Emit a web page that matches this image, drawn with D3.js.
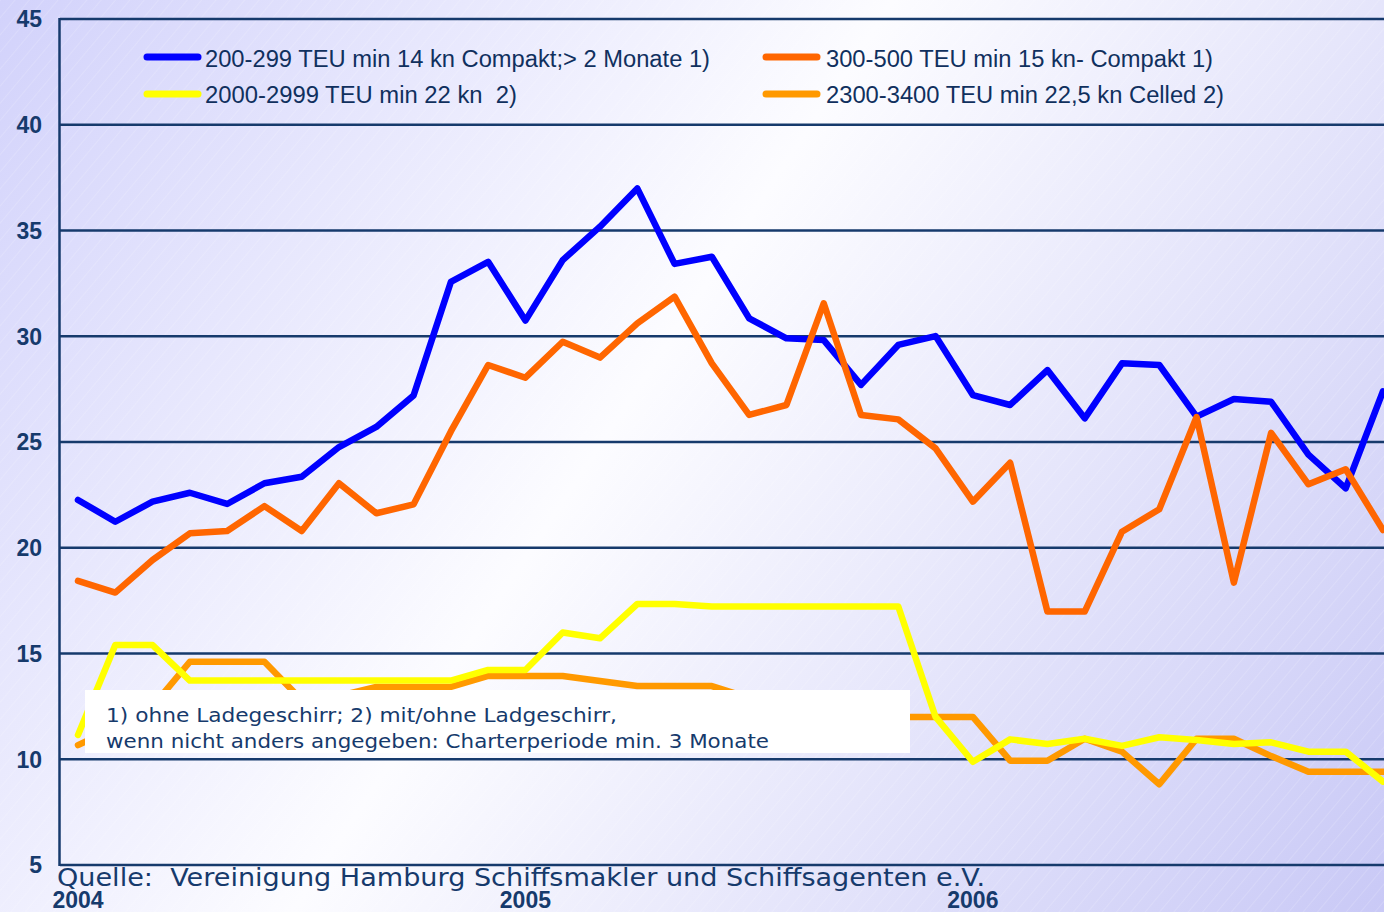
<!DOCTYPE html>
<html>
<head>
<meta charset="utf-8">
<script src="https://cdn.jsdelivr.net/npm/d3@7"></script>
<style>
  html, body { margin: 0; padding: 0; background: #fff; }
  svg { display: block; }
</style>
</head>
<body>
<svg id="canvas" width="1384" height="912"></svg>
<script>
// monthly charter rates, Jan 2004 .. Dec 2006 (index 0..35)
let yearLabels = ["2004", "2005", "2006"]
let yearMonthIndex = [0, 12, 24]
let yTicks = [5, 10, 15, 20, 25, 30, 35, 40, 45]

let seriesNames = [
  "200-299 TEU min 14 kn Compakt;> 2 Monate 1)",
  "300-500 TEU min 15 kn- Compakt 1)",
  "2000-2999 TEU min 22 kn  2)",
  "2300-3400 TEU min 22,5 kn Celled 2)"
]
let seriesColors = ["#0000ff", "#ff6600", "#ffff00", "#ff9900"]

let teu200 = [22.26, 21.23, 22.18, 22.6, 22.07, 23.05, 23.36, 24.76, 25.71, 27.2,
  32.57, 33.52, 30.74, 33.6, 35.18, 36.99, 33.42, 33.76, 30.85, 29.9,
  29.82, 27.7, 29.59, 30.01, 27.22, 26.75, 28.4, 26.12, 28.72, 28.64,
  26.2, 27.03, 26.9, 24.4, 22.81, 27.4]
let teu300 = [18.43, 17.88, 19.42, 20.68, 20.79, 21.97, 20.79, 23.05, 21.63, 22.05,
  25.5, 28.64, 28.04, 29.74, 28.99, 30.61, 31.87, 28.72, 26.28, 26.75,
  31.56, 26.28, 26.07, 24.7, 22.18, 24.02, 16.98, 16.98, 20.76, 21.82,
  26.18, 18.35, 25.43, 23.0, 23.71, 20.84]
let teu2000 = [11.15, 15.4, 15.4, 13.72, 13.72, 13.72, 13.72, 13.72, 13.72, 13.72,
  13.72, 14.22, 14.22, 15.99, 15.72, 17.34, 17.34, 17.22, 17.22, 17.22,
  17.22, 17.22, 17.22, 12.0, 9.88, 10.94, 10.72, 10.97, 10.63, 11.04,
  10.91, 10.72, 10.8, 10.36, 10.36, 8.94]
let teu2300 = [10.67, 11.5, 12.5, 14.61, 14.61, 14.61, 12.8, 13.0, 13.42, 13.42,
  13.42, 13.94, 13.94, 13.94, 13.7, 13.46, 13.46, 13.46, 12.9, 12.5,
  12.2, 12.0, 12.0, 12.0, 12.0, 9.93, 9.93, 10.97, 10.36, 8.82,
  10.97, 10.97, 10.15, 9.41, 9.41, 9.41]

let noteLines = [
  "1) ohne Ladegeschirr; 2) mit/ohne Ladgeschirr,",
  "wenn nicht anders angegeben: Charterperiode min. 3 Monate"
]
let sourceText = "Quelle:  Vereinigung Hamburg Schiffsmakler und Schiffsagenten e.V."

let width = 1384, height = 912
let navy = "#163a6c"

let canvas = d3.select('#canvas')
let defs = canvas.append('defs')

let grad = defs.append('linearGradient')
  .attr('id', 'bg')
  .attr('gradientUnits', 'userSpaceOnUse')
  .attr('x1', 0).attr('y1', 0).attr('x2', width).attr('y2', height)
grad.append('stop').attr('offset', 0).attr('stop-color', '#d2d2fb')
grad.append('stop').attr('offset', 0.45).attr('stop-color', '#fcfcff')
grad.append('stop').attr('offset', 1).attr('stop-color', '#c9c9f6')

let hatch = defs.append('pattern')
  .attr('id', 'hatch')
  .attr('patternUnits', 'userSpaceOnUse')
  .attr('width', 11).attr('height', 11)
  .attr('patternTransform', 'rotate(-50)')
hatch.append('line')
  .attr('x1', 0).attr('y1', 0).attr('x2', 11).attr('y2', 0)
  .attr('stroke', '#ffffff').attr('stroke-opacity', 0.3).attr('stroke-width', 1)

defs.append('clipPath').attr('id', 'plotClip')
  .append('rect').attr('x', 60).attr('y', 0).attr('width', width - 60).attr('height', height)

canvas.append('rect').attr('width', width).attr('height', height).attr('fill', 'url(#bg)')
canvas.append('rect').attr('width', width).attr('height', height).attr('fill', 'url(#hatch)')

let x = d3.scaleLinear().domain([0, 35]).range([78, 1383])
let y = d3.scaleLinear().domain([5, 45]).range([865, 19])

// gridlines
canvas.append('g')
  .selectAll('line')
  .data(yTicks)
  .enter()
  .append('line')
  .attr('x1', 60)
  .attr('x2', width)
  .attr('y1', d => y(d))
  .attr('y2', d => y(d))
  .attr('stroke', navy)
  .attr('stroke-width', 2.5)

canvas.append('line')
  .attr('x1', 59.5).attr('x2', 59.5)
  .attr('y1', y(45) - 1).attr('y2', y(5) + 1)
  .attr('stroke', navy)
  .attr('stroke-width', 2.5)

// y tick labels
canvas.append('g')
  .selectAll('text')
  .data(yTicks)
  .enter()
  .append('text')
  .attr('x', 42)
  .attr('y', d => y(d))
  .attr('dy', '0.36em')
  .attr('text-anchor', 'end')
  .attr('font-family', 'Liberation Sans, Arial, sans-serif')
  .attr('font-weight', 'bold')
  .attr('font-size', 23)
  .attr('fill', navy)
  .text(d => d)

// series lines
let allSeries = [teu200, teu300, teu2300, teu2000]
let drawColors = [seriesColors[0], seriesColors[1], seriesColors[3], seriesColors[2]]

let line = d3.line()
  .x((d, i) => x(i))
  .y(d => y(d))

canvas.append('g')
  .attr('clip-path', 'url(#plotClip)')
  .selectAll('path')
  .data(allSeries)
  .enter()
  .append('path')
  .attr('d', line)
  .attr('fill', 'none')
  .attr('stroke', (d, i) => drawColors[i])
  .attr('stroke-width', 6.5)
  .attr('stroke-linejoin', 'round')
  .attr('stroke-linecap', 'round')

// legend
let legendPos = [
  {lx: 147, ly: 57, tx: 205, ty: 67, w: 505},
  {lx: 766, ly: 57, tx: 826, ty: 67, w: 387},
  {lx: 147, ly: 94, tx: 205, ty: 103, w: 312},
  {lx: 766, ly: 94, tx: 826, ty: 103, w: 398}
]
let legend = canvas.append('g').attr('id', 'legend')
let items = legend.selectAll('g')
  .data(seriesNames)
  .enter()
  .append('g')
items.append('line')
  .attr('x1', (d, i) => legendPos[i].lx)
  .attr('x2', (d, i) => legendPos[i].lx + 51)
  .attr('y1', (d, i) => legendPos[i].ly)
  .attr('y2', (d, i) => legendPos[i].ly)
  .attr('stroke', (d, i) => seriesColors[i])
  .attr('stroke-width', 7)
  .attr('stroke-linecap', 'round')
items.append('text')
  .attr('x', (d, i) => legendPos[i].tx)
  .attr('y', (d, i) => legendPos[i].ty)
  .attr('textLength', (d, i) => legendPos[i].w)
  .attr('lengthAdjust', 'spacingAndGlyphs')
  .style('white-space', 'pre')
  .attr('font-family', 'Liberation Sans, Arial, sans-serif')
  .attr('font-size', 23)
  .attr('fill', '#10305e')
  .text(d => d)

// footnote box
canvas.append('rect')
  .attr('x', 85).attr('y', 690)
  .attr('width', 825).attr('height', 63)
  .attr('fill', '#ffffff')

canvas.append('g')
  .selectAll('text')
  .data(noteLines)
  .enter()
  .append('text')
  .attr('x', 106)
  .attr('y', (d, i) => 722 + i * 25.5)
  .attr('textLength', (d, i) => i === 0 ? 511 : 663)
  .attr('lengthAdjust', 'spacingAndGlyphs')
  .attr('font-family', 'DejaVu Sans, Verdana, sans-serif')
  .attr('font-size', 20)
  .attr('fill', navy)
  .text(d => d)

// source
canvas.append('text')
  .attr('x', 57)
  .attr('y', 886)
  .attr('textLength', 928)
  .attr('lengthAdjust', 'spacingAndGlyphs')
  .style('white-space', 'pre')
  .attr('font-family', 'DejaVu Sans, Verdana, sans-serif')
  .attr('font-size', 24)
  .attr('fill', navy)
  .text(sourceText)

// year labels
canvas.append('g')
  .selectAll('text')
  .data(yearLabels)
  .enter()
  .append('text')
  .attr('x', (d, i) => x(yearMonthIndex[i]))
  .attr('y', 908)
  .attr('text-anchor', 'middle')
  .attr('font-family', 'Liberation Sans, Arial, sans-serif')
  .attr('font-weight', 'bold')
  .attr('font-size', 23)
  .attr('fill', navy)
  .text(d => d)
</script>
</body>
</html>
